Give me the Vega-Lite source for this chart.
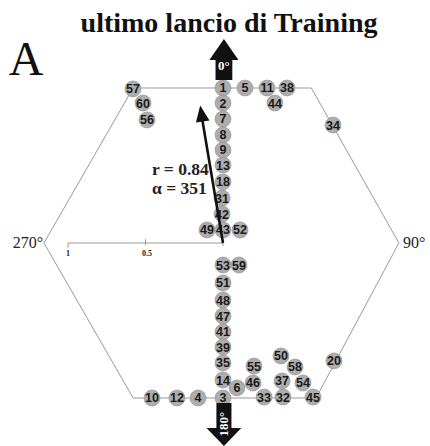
{
  "$schema": "https://vega.github.io/schema/vega-lite/v6.json",
  "width": 430,
  "height": 446,
  "autosize": "none",
  "padding": 0,
  "background": "white",
  "config": {"view": {"stroke": null}},
  "datasets": {
    "points": [
      {"id": "57", "x": -0.581, "y": 0.994},
      {"id": "60", "x": -0.516, "y": 0.903},
      {"id": "56", "x": -0.49, "y": 0.794},
      {"id": "1", "x": 0.0, "y": 1.0},
      {"id": "5", "x": 0.142, "y": 1.0},
      {"id": "11", "x": 0.284, "y": 1.0},
      {"id": "38", "x": 0.413, "y": 1.0},
      {"id": "44", "x": 0.335, "y": 0.903},
      {"id": "34", "x": 0.71, "y": 0.761},
      {"id": "2", "x": 0.0, "y": 0.903},
      {"id": "7", "x": 0.0, "y": 0.8},
      {"id": "8", "x": 0.0, "y": 0.697},
      {"id": "9", "x": 0.0, "y": 0.6},
      {"id": "13", "x": 0.0, "y": 0.503},
      {"id": "18", "x": 0.0, "y": 0.394},
      {"id": "31", "x": -0.006, "y": 0.29},
      {"id": "42", "x": -0.006, "y": 0.187},
      {"id": "49", "x": -0.103, "y": 0.084},
      {"id": "43", "x": 0.0, "y": 0.084},
      {"id": "52", "x": 0.11, "y": 0.084},
      {"id": "53", "x": 0.0, "y": -0.142},
      {"id": "59", "x": 0.103, "y": -0.142},
      {"id": "51", "x": 0.0, "y": -0.258},
      {"id": "48", "x": 0.0, "y": -0.368},
      {"id": "47", "x": 0.0, "y": -0.471},
      {"id": "41", "x": 0.0, "y": -0.574},
      {"id": "39", "x": 0.0, "y": -0.671},
      {"id": "35", "x": 0.0, "y": -0.774},
      {"id": "14", "x": 0.0, "y": -0.884},
      {"id": "3", "x": 0.0, "y": -1.0},
      {"id": "6", "x": 0.09, "y": -0.935},
      {"id": "4", "x": -0.161, "y": -1.0},
      {"id": "12", "x": -0.297, "y": -1.0},
      {"id": "10", "x": -0.458, "y": -1.0},
      {"id": "55", "x": 0.2, "y": -0.794},
      {"id": "46", "x": 0.194, "y": -0.903},
      {"id": "33", "x": 0.265, "y": -0.994},
      {"id": "32", "x": 0.387, "y": -0.994},
      {"id": "37", "x": 0.381, "y": -0.89},
      {"id": "50", "x": 0.374, "y": -0.729},
      {"id": "58", "x": 0.465, "y": -0.8},
      {"id": "54", "x": 0.516, "y": -0.903},
      {"id": "45", "x": 0.581, "y": -0.994},
      {"id": "20", "x": 0.716, "y": -0.761}
    ],
    "hex": [
      {"o": 0, "x": -0.58, "y": 1.0},
      {"o": 1, "x": 0.57, "y": 1.0},
      {"o": 2, "x": 1.135, "y": 0.0},
      {"o": 3, "x": 0.6, "y": -1.0},
      {"o": 4, "x": -0.58, "y": -1.0},
      {"o": 5, "x": -1.155, "y": 0.0},
      {"o": 6, "x": -0.58, "y": 1.0}
    ],
    "bar": [{"x": -1.0, "x2": 0.0, "y": 0.0}],
    "ticks": [
      {"x": -1.0, "y": 0.0, "y2": -0.03},
      {"x": -0.5, "y": -0.015, "y2": 0.025},
      {"x": 0.0, "y": -0.02, "y2": 0.02}
    ],
    "ticklabels": [
      {"t": "1", "x": -1.0, "y": -0.068},
      {"t": "0.5", "x": -0.49, "y": -0.068}
    ],
    "vector": [{"x": 0.0, "y": 0.0, "x2": -0.136, "y2": 0.81}],
    "vhead": [{"x": -0.139, "y": 0.835}],
    "uparrow": [{"x": 0.006, "y": 1.184}],
    "downarrow": [{"x": 0.006, "y": -1.171}],
    "stats": [
      {"t": "r = 0.84", "x": -0.458, "y": 0.471},
      {"t": "α = 351", "x": -0.458, "y": 0.348}
    ]
  },
  "encoding": {
    "x": {"field": "x", "type": "quantitative", "scale": {"domain": [-1.4387, 1.3355], "nice": false, "zero": false}, "axis": null},
    "y": {"field": "y", "type": "quantitative", "scale": {"domain": [-1.3097, 1.5677], "nice": false, "zero": false}, "axis": null}
  },
  "layer": [
    {
      "data": {"name": "hex"},
      "mark": {"type": "line", "color": "#9a9a9a", "strokeWidth": 1},
      "encoding": {"order": {"field": "o", "type": "quantitative"}}
    },
    {
      "data": {"name": "bar"},
      "mark": {"type": "rule", "color": "#9a9a9a", "strokeWidth": 1},
      "encoding": {"x2": {"field": "x2"}}
    },
    {
      "data": {"name": "ticks"},
      "mark": {"type": "rule", "color": "#9a9a9a", "strokeWidth": 1},
      "encoding": {"y2": {"field": "y2"}}
    },
    {
      "data": {"name": "ticklabels"},
      "mark": {"type": "text", "font": "Liberation Serif", "fontWeight": "bold", "fontSize": 8, "color": "#222", "baseline": "middle"},
      "encoding": {"text": {"field": "t"}}
    },
    {
      "data": {"name": "points"},
      "mark": {"type": "point", "shape": "circle", "filled": true, "size": 256, "fill": "#adadad", "stroke": "#8f8f8f", "strokeWidth": 0.6, "opacity": 1}
    },
    {
      "data": {"name": "points"},
      "mark": {"type": "text", "font": "Liberation Sans", "fontWeight": "bold", "fontSize": 12.5, "color": "#1a1a1a", "baseline": "middle", "dy": 0.5},
      "encoding": {"text": {"field": "id"}}
    },
    {
      "data": {"name": "vector"},
      "mark": {"type": "rule", "color": "#111", "strokeWidth": 2.6},
      "encoding": {"x2": {"field": "x2"}, "y2": {"field": "y2"}}
    },
    {
      "data": {"name": "vhead"},
      "mark": {"type": "point", "shape": "M0,-1L0.85,1L-0.85,1Z", "filled": true, "size": 260, "color": "#111", "opacity": 1, "angle": 351}
    },
    {
      "data": {"name": "uparrow"},
      "mark": {"type": "point", "shape": "M0,-1L0.71,0.02L0.41,0.02L0.41,1L-0.41,1L-0.41,0.02L-0.71,0.02Z", "filled": true, "size": 1681, "color": "#111", "opacity": 1}
    },
    {
      "data": {"name": "downarrow"},
      "mark": {"type": "point", "shape": "M-0.35,-1L0.35,-1L0.35,0.16L0.81,0.16L0,1L-0.81,0.16L-0.35,0.16Z", "filled": true, "size": 1849, "color": "#111", "opacity": 1}
    },
    {
      "data": {"values": [{"t": "0°", "x": 0.006, "y": 1.142}]},
      "mark": {"type": "text", "font": "Liberation Serif", "fontWeight": "bold", "fontSize": 13, "color": "white", "baseline": "middle"},
      "encoding": {"text": {"field": "t"}}
    },
    {
      "data": {"values": [{"t": "180°", "x": 0.006, "y": -1.168}]},
      "mark": {"type": "text", "font": "Liberation Serif", "fontWeight": "bold", "fontSize": 13, "color": "white", "baseline": "middle", "angle": 270},
      "encoding": {"text": {"field": "t"}}
    },
    {
      "data": {"name": "stats"},
      "mark": {"type": "text", "font": "Liberation Serif", "fontWeight": "bold", "fontSize": 17.5, "color": "#222", "align": "left", "baseline": "middle"},
      "encoding": {"text": {"field": "t"}}
    },
    {
      "data": {"values": [{"t": "270°", "x": -1.161, "y": 0.0}]},
      "mark": {"type": "text", "font": "Liberation Serif", "fontSize": 16, "color": "#222", "baseline": "middle", "align": "right"},
      "encoding": {"text": {"field": "t"}}
    },
    {
      "data": {"values": [{"t": "90°", "x": 1.161, "y": 0.0}]},
      "mark": {"type": "text", "font": "Liberation Serif", "fontSize": 16, "color": "#222", "baseline": "middle", "align": "left"},
      "encoding": {"text": {"field": "t"}}
    },
    {
      "data": {"values": [{"t": "A", "x": -1.271, "y": 1.084}]},
      "mark": {"type": "text", "font": "Liberation Serif", "fontSize": 48, "color": "#111", "baseline": "alphabetic"},
      "encoding": {"text": {"field": "t"}}
    },
    {
      "data": {"values": [{"t": "ultimo lancio di Training", "x": 0.039, "y": 1.36}]},
      "mark": {"type": "text", "font": "Liberation Serif", "fontWeight": "bold", "fontSize": 28, "color": "#111", "baseline": "alphabetic"},
      "encoding": {"text": {"field": "t"}}
    }
  ]
}
